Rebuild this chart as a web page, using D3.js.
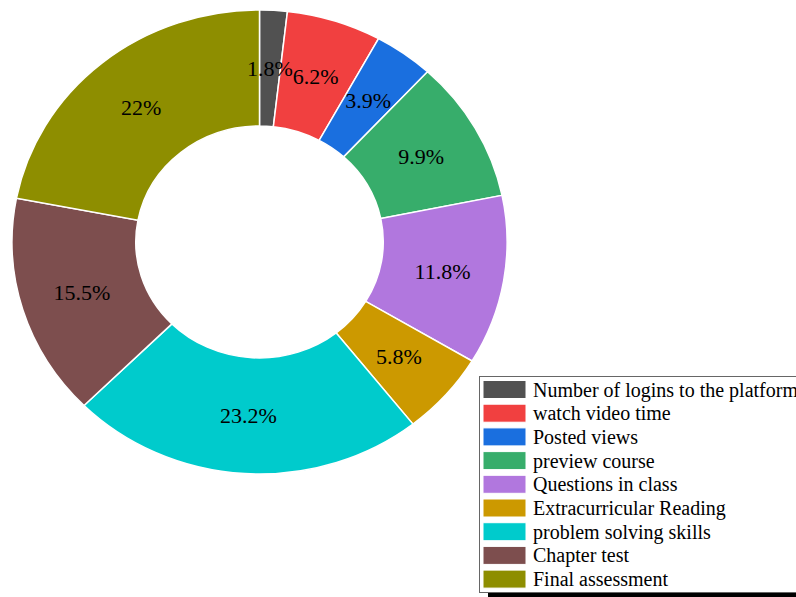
<!DOCTYPE html>
<html>
<head>
<meta charset="utf-8">
<script src="https://cdn.jsdelivr.net/npm/d3@7"></script>
<style>
  body { margin: 0; background: #fff; }
  svg { display: block; }
</style>
</head>
<body>
<div id="chart"></div>
<script>
// chart data
const categories = [
  'Number of logins to the platform',
  'watch video time',
  'Posted views',
  'preview course',
  'Questions in class',
  'Extracurricular Reading',
  'problem solving skills',
  'Chapter test',
  'Final assessment'
];
const values = [1.8, 6.2, 3.9, 9.9, 11.8, 5.8, 23.2, 15.5, 22];
const labels = ['1.8%', '6.2%', '3.9%', '9.9%', '11.8%', '5.8%', '23.2%', '15.5%', '22%'];
const colors = ['#515151', '#F14040', '#1A6FDF', '#37AD6B', '#B177DE', '#CC9900', '#00CBCC', '#7D4E4E', '#8E8E00'];

const width = 796;
const height = 597;

const svg = d3.select('#chart').append('svg')
  .attr('width', width)
  .attr('height', height);

// the pie is slightly squashed vertically, so x and y get their own scales
const xScale = d3.scaleLinear().domain([-1, 1]).range([12, 507]);
const yScale = d3.scaleLinear().domain([-1, 1]).range([474, 10]);

const cx = xScale(0);
const cy = yScale(0);
const rx = xScale(1) - cx;
const ry = cy - yScale(1);

const pie = d3.pie().sort(null).value(d => d.value);
const arcs = pie(values.map((v, i) => ({ value: v, i })));

const arc = d3.arc().innerRadius(0.5).outerRadius(1);

const g = svg.append('g')
  .attr('transform', 'translate(' + cx + ',' + cy + ') scale(' + rx + ',' + ry + ')');

g.selectAll('path.wedge')
  .data(arcs)
  .enter().append('path')
    .attr('class', 'wedge')
    .attr('d', arc)
    .style('fill', d => colors[d.data.i])
    .style('stroke', '#fff')
    .style('stroke-width', '1.5px')
    .attr('vector-effect', 'non-scaling-stroke');

// percent labels at 0.75 of the radius
const pctDistance = 0.75;
svg.selectAll('text.pct')
  .data(arcs)
  .enter().append('text')
    .attr('class', 'pct')
    .attr('x', d => xScale(pctDistance * Math.sin((d.startAngle + d.endAngle) / 2)))
    .attr('y', d => yScale(pctDistance * Math.cos((d.startAngle + d.endAngle) / 2)))
    .attr('text-anchor', 'middle')
    .attr('dominant-baseline', 'central')
    .style('font-family', '"Liberation Serif", "Times New Roman", serif')
    .style('font-size', '22px')
    .style('fill', '#000')
    .text(d => labels[d.data.i]);

// legend
const legendX = 479;
const legendY = 376;
const legendW = 330;
const legendH = 216;
const rowStep = 23.7;

const legend = svg.append('g');

legend.append('rect')
  .attr('x', legendX + 9)
  .attr('y', legendY + 9)
  .attr('width', legendW)
  .attr('height', legendH)
  .style('fill', '#000');

legend.append('rect')
  .attr('x', legendX + 0.5)
  .attr('y', legendY + 0.5)
  .attr('width', legendW)
  .attr('height', legendH)
  .style('fill', '#fff')
  .style('stroke', '#666')
  .style('stroke-width', '1px');

const rows = legend.selectAll('g.row')
  .data(categories)
  .enter().append('g')
    .attr('class', 'row')
    .attr('transform', (d, i) => 'translate(0,' + (legendY + 13.5 + i * rowStep) + ')');

rows.append('rect')
  .attr('x', legendX + 4)
  .attr('y', -9)
  .attr('width', 43)
  .attr('height', 18)
  .style('fill', (d, i) => colors[i])
  .style('stroke', '#fff')
  .style('stroke-width', '1px');

rows.append('text')
  .attr('x', legendX + 54)
  .attr('y', 0)
  .attr('dominant-baseline', 'central')
  .style('font-family', '"Liberation Serif", "Times New Roman", serif')
  .style('font-size', '20px')
  .style('fill', '#000')
  .text(d => d);
</script>
</body>
</html>
